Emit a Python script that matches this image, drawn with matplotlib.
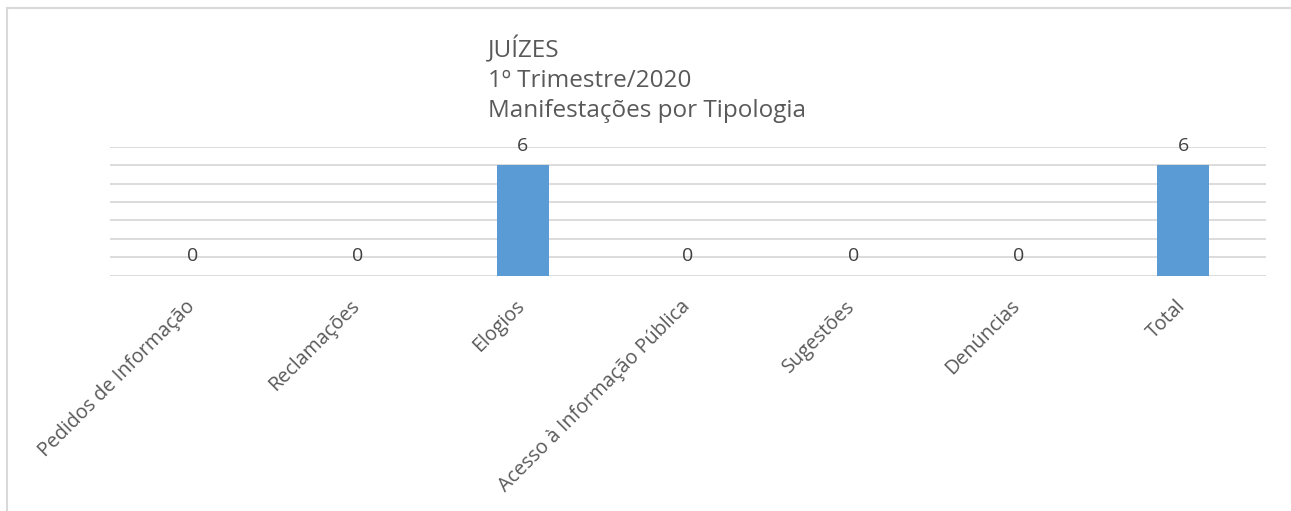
import matplotlib.pyplot as plt
from matplotlib.lines import Line2D
from matplotlib.transforms import ScaledTranslation
import numpy as np

plt.rcParams['font.family'] = ['Open Sans', 'DejaVu Sans']

categorias = ["Pedidos de Informação", "Reclamações", "Elogios",
              "Acesso à Informação Pública", "Sugestões", "Denúncias", "Total"]
valores = [0, 0, 6, 0, 0, 0, 6]
titulo = "JUÍZES\n1º Trimestre/2020\nManifestações por Tipologia"

W, H = 1291, 511
fig = plt.figure(figsize=(W / 100, H / 100), dpi=100)

# area do grafico em pixels: x 110..1266, y 147(7)..275(0)
ax = fig.add_axes([110 / W, 1 - 275.5 / H, 1156 / W, 128.5 / H])

pos = np.arange(len(categorias))
ax.bar(pos, valores, width=0.315, color="#5b9bd5", zorder=3)
ax.set_xlim(-0.5, len(categorias) - 0.5)
ax.set_ylim(0, 7)
ax.set_yticks(range(0, 8))
ax.yaxis.grid(True, color="#d9d9d9", linewidth=1.3, zorder=0)
ax.tick_params(axis="y", left=False, labelleft=False)
ax.tick_params(axis="x", length=0, pad=15)
for s in ax.spines.values():
    s.set_visible(False)

ax.set_xticks(pos)
ax.set_xticklabels(categorias, rotation=45, ha="right", rotation_mode="anchor",
                   fontsize=14.2, color="#595959")
desloc = ScaledTranslation(-8 / 100, 0, fig.dpi_scale_trans)
for lbl in ax.get_xticklabels():
    lbl.set_transform(lbl.get_transform() + desloc)

for p, v in zip(pos, valores):
    ax.annotate(str(v), (p, v), xytext=(0, 10.5), textcoords="offset points",
                ha="center", va="baseline", fontsize=14, color="#404040")

fig.text(488 / W, 1 - 117 / H, titulo, ha="left", va="baseline", fontsize=17.5,
         color="#595959", linespacing=1.31, multialignment="left")

# moldura
fig.add_artist(Line2D([7 / W, 1], [1 - 8 / H, 1 - 8 / H], color="#d9d9d9", linewidth=1.5))
fig.add_artist(Line2D([7 / W, 7 / W], [0, 1 - 8 / H], color="#d9d9d9", linewidth=1.5))

fig.savefig("out.png", dpi=100, facecolor="white")
